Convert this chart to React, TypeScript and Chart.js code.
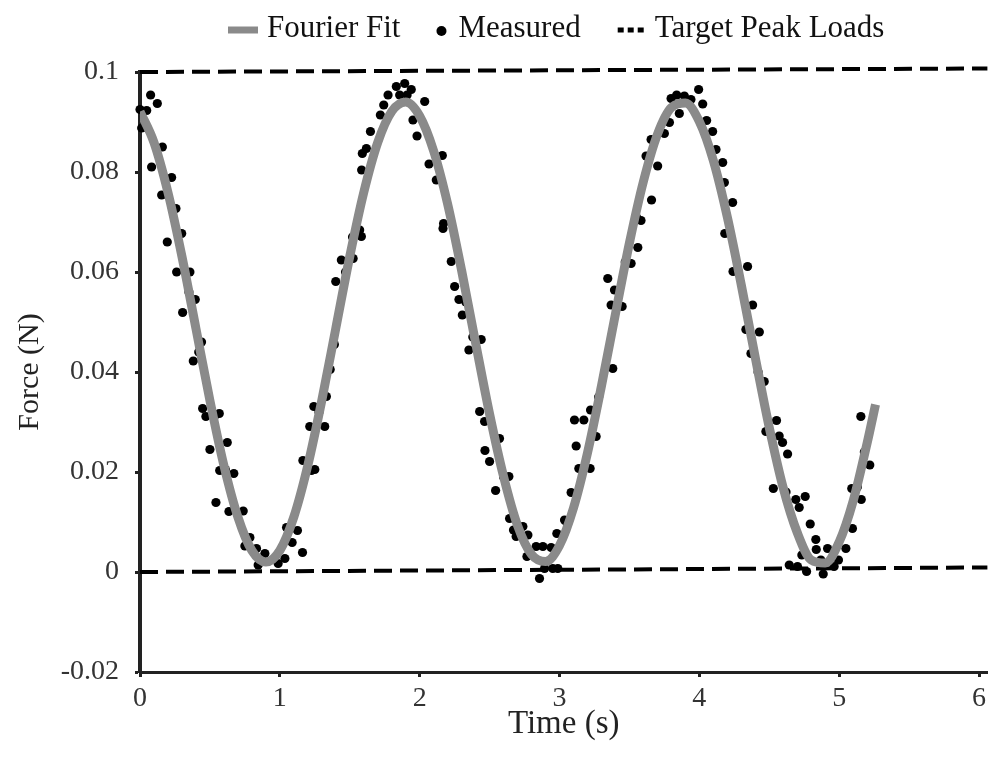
import { useEffect, useRef } from 'react';
import { Chart, registerables } from 'chart.js';

Chart.register(...registerables);

// ---- Data ----
const fitTime = [
  0, 0.1, 0.2, 0.3, 0.4, 0.5, 0.6, 0.7, 0.8, 0.9, 1.0, 1.1, 1.2, 1.3, 1.4, 1.5, 1.6, 1.7, 1.8, 1.9,
  2.0, 2.1, 2.2, 2.3, 2.4, 2.5, 2.6, 2.7, 2.8, 2.9, 3.0, 3.1, 3.2, 3.3, 3.4, 3.5, 3.6, 3.7, 3.8, 3.9,
  4.0, 4.1, 4.2, 4.3, 4.4, 4.5, 4.6, 4.7, 4.8, 4.9, 5.0, 5.1, 5.2, 5.26,
];
const fitForce = [
  0.0921, 0.0859, 0.0759, 0.0631, 0.0487, 0.0343, 0.0213, 0.011, 0.0043, 0.002, 0.0043, 0.011, 0.0213,
  0.0343, 0.0487, 0.0631, 0.0759, 0.0859, 0.0921, 0.094, 0.0912, 0.0842, 0.0736, 0.0603, 0.0458, 0.0316,
  0.0191, 0.0093, 0.0035, 0.0021, 0.0053, 0.0128, 0.0238, 0.0372, 0.0516, 0.0658, 0.0781, 0.0875, 0.0929,
  0.0938, 0.0901, 0.0823, 0.071, 0.0574, 0.0429, 0.0289, 0.0168, 0.0079, 0.0024, 0.0018, 0.006, 0.0142,
  0.0258, 0.0335,
];

const measuredTime = [
  0.0, 0.012, 0.048, 0.076, 0.083, 0.124, 0.155, 0.16, 0.195, 0.226, 0.257, 0.262, 0.298, 0.305, 0.35,
  0.357, 0.381, 0.395, 0.42, 0.44, 0.448, 0.471, 0.5, 0.53, 0.543, 0.567, 0.57, 0.61, 0.624, 0.636, 0.671,
  0.738, 0.75, 0.786, 0.833, 0.845, 0.893, 0.988, 1.036, 1.048, 1.088, 1.126, 1.162, 1.165, 1.214, 1.226,
  1.243, 1.25, 1.28, 1.321, 1.333, 1.36, 1.39, 1.4, 1.44, 1.47, 1.52, 1.524, 1.571, 1.583, 1.585, 1.59,
  1.619, 1.648, 1.719, 1.743, 1.774, 1.833, 1.857, 1.893, 1.91, 1.94, 1.952, 1.981, 2.036, 2.067, 2.119,
  2.162, 2.167, 2.171, 2.226, 2.25, 2.281, 2.305, 2.33, 2.352, 2.38, 2.429, 2.44, 2.464, 2.467, 2.5, 2.543,
  2.571, 2.6, 2.638, 2.643, 2.671, 2.69, 2.738, 2.767, 2.774, 2.833, 2.857, 2.881, 2.893, 2.94, 2.952,
  2.981, 2.988, 3.036, 3.05, 3.083, 3.107, 3.119, 3.138, 3.174, 3.219, 3.222, 3.262, 3.28, 3.345, 3.369,
  3.381, 3.393, 3.448, 3.47, 3.512, 3.55, 3.56, 3.583, 3.619, 3.655, 3.658, 3.702, 3.75, 3.786, 3.798,
  3.838, 3.857, 3.893, 3.94, 3.995, 4.024, 4.052, 4.095, 4.119, 4.167, 4.179, 4.182, 4.238, 4.241, 4.28,
  4.333, 4.345, 4.369, 4.381, 4.42, 4.429, 4.464, 4.476, 4.529, 4.552, 4.571, 4.595, 4.62, 4.631, 4.643,
  4.69, 4.702, 4.714, 4.733, 4.757, 4.767, 4.793, 4.833, 4.836, 4.869, 4.886, 4.917, 4.964, 4.995, 5.048,
  5.09, 5.095, 5.13, 5.155, 5.158, 5.18, 5.219,
];
const measuredForce = [
  0.0925, 0.0888, 0.0923, 0.0954, 0.081, 0.0937, 0.0754, 0.085, 0.066, 0.0789, 0.0727, 0.06, 0.0677,
  0.0519, 0.056, 0.06, 0.0422, 0.0545, 0.044, 0.046, 0.0327, 0.0311, 0.0245, 0.031, 0.0139, 0.0317, 0.0203,
  0.0205, 0.0259, 0.0121, 0.0197, 0.0122, 0.0052, 0.0069, 0.0047, 0.0014, 0.0037, 0.0017, 0.0027, 0.0089,
  0.0059, 0.0083, 0.0039, 0.0223, 0.0291, 0.0203, 0.0331, 0.0205, 0.032, 0.0291, 0.0351, 0.0405, 0.0455,
  0.0581, 0.0624, 0.06, 0.067, 0.0627, 0.0684, 0.0671, 0.0804, 0.0837, 0.0847, 0.0881, 0.0914, 0.0934,
  0.0954, 0.0971, 0.0954, 0.0977, 0.0954, 0.0965, 0.0904, 0.0872, 0.0941, 0.0816, 0.0784, 0.0833, 0.0687,
  0.0697, 0.0621, 0.0571, 0.0545, 0.0514, 0.054, 0.0444, 0.047, 0.0321, 0.0465, 0.0301, 0.0243, 0.0221,
  0.0163, 0.0267, 0.019, 0.0191, 0.0107, 0.0084, 0.0071, 0.0091, 0.0031, 0.0074, 0.0051, -0.0013, 0.0051,
  0.0007, 0.0049, 0.0007, 0.0077, 0.0007, 0.0104, 0.01, 0.0159, 0.0304, 0.0252, 0.0207, 0.0304, 0.0207,
  0.0324, 0.0271, 0.035, 0.0587, 0.0534, 0.0407, 0.0564, 0.0531, 0.062, 0.0617, 0.071, 0.0649, 0.0703,
  0.0832, 0.0865, 0.0744, 0.0812, 0.0877, 0.0899, 0.0947, 0.0954, 0.0917, 0.0952, 0.0945, 0.0965, 0.0936,
  0.0903, 0.0881, 0.0845, 0.0819, 0.0779, 0.0677, 0.0739, 0.0601, 0.06, 0.0485, 0.0611, 0.0437, 0.0534,
  0.04, 0.048, 0.0381, 0.0281, 0.0167, 0.0303, 0.0272, 0.0259, 0.016, 0.0236, 0.0014, 0.0145, 0.0011,
  0.0129, 0.0034, 0.0151, 0.0001, 0.0096, 0.0065, 0.0045, 0.0024, -0.0004, 0.0047, 0.0011, 0.0024, 0.0047,
  0.0167, 0.0087, 0.017, 0.0311, 0.0145, 0.024, 0.0214,
];

const targetTime = [0, 6.06];
const upperTarget = [0.1, 0.1007];
const lowerTarget = [0, 0.0009];

const xTicks = [0, 1, 2, 3, 4, 5, 6];
const yTicks = [-0.02, 0, 0.02, 0.04, 0.06, 0.08, 0.1];
const yTickLabels = ['-0.02', '0', '0.02', '0.04', '0.06', '0.08', '0.1'];

const seriesNames = ['Fourier Fit', 'Measured', 'Target Peak Loads'];
const xTitle = 'Time (s)';
const yTitle = 'Force (N)';

const FONT = '"Liberation Serif", "Times New Roman", serif';

const legendPlugin = {
  id: 'refLegend',
  afterDraw(chart: any) {
    const ctx = chart.ctx as CanvasRenderingContext2D;
    ctx.save();
    ctx.font = `31px ${FONT}`;
    ctx.textBaseline = 'middle';
    ctx.textAlign = 'left';
    const y = 29;
    let x = 228;
    // Fourier Fit: thick grey line
    ctx.strokeStyle = '#8a8a8a';
    ctx.lineWidth = 7;
    ctx.beginPath();
    ctx.moveTo(x, y + 1);
    ctx.lineTo(x + 30, y + 1);
    ctx.stroke();
    x += 39;
    ctx.fillStyle = '#111';
    ctx.fillText(seriesNames[0], x, y);
    x += ctx.measureText(seriesNames[0]).width + 36;
    // Measured: dot
    ctx.beginPath();
    ctx.arc(x + 5, y + 2, 5, 0, Math.PI * 2);
    ctx.fillStyle = '#000';
    ctx.fill();
    x += 22;
    ctx.fillStyle = '#111';
    ctx.fillText(seriesNames[1], x, y);
    x += ctx.measureText(seriesNames[1]).width + 37;
    // Target: short dashed line
    ctx.strokeStyle = '#000';
    ctx.lineWidth = 5;
    ctx.setLineDash([6, 4]);
    ctx.beginPath();
    ctx.moveTo(x, y + 1);
    ctx.lineTo(x + 26, y + 1);
    ctx.stroke();
    ctx.setLineDash([]);
    x += 37;
    ctx.fillStyle = '#111';
    ctx.fillText(seriesNames[2], x, y);
    ctx.restore();
  },
};

export default function App() {
  const canvasRef = useRef<HTMLCanvasElement | null>(null);

  useEffect(() => {
    if (!canvasRef.current) return;
    const pts = (xs: number[], ys: number[]) => xs.map((x, i) => ({ x, y: ys[i] }));
    const chart = new Chart(canvasRef.current, {
      type: 'scatter',
      data: {
        datasets: [
          {
            label: seriesNames[0],
            data: pts(fitTime, fitForce),
            showLine: true,
            borderColor: '#8a8a8a',
            borderWidth: 9,
            pointRadius: 0,
            cubicInterpolationMode: 'monotone',
            order: 0,
          } as any,
          {
            label: seriesNames[1],
            data: pts(measuredTime, measuredForce),
            pointRadius: 4.6,
            pointBackgroundColor: '#000',
            pointBorderWidth: 0,
            backgroundColor: '#000',
            clip: false,
            order: 1,
          },
          {
            label: seriesNames[2],
            data: pts(targetTime, upperTarget),
            showLine: true,
            borderColor: '#000',
            borderWidth: 4,
            borderDash: [18, 8],
            pointRadius: 0,
            clip: false,
            order: 2,
          },
          {
            label: seriesNames[2] + ' (lower)',
            data: pts(targetTime, lowerTarget),
            showLine: true,
            borderColor: '#000',
            borderWidth: 4,
            borderDash: [18, 8],
            pointRadius: 0,
            clip: false,
            order: 2,
          },
        ],
      },
      options: {
        responsive: true,
        maintainAspectRatio: false,
        animation: false,
        layout: { padding: { top: 72, left: 0, right: 0, bottom: 0 } },
        plugins: {
          legend: { display: false },
          tooltip: { enabled: false },
        },
        scales: {
          x: {
            type: 'linear',
            min: 0,
            max: 6.06,
            afterBuildTicks: (s: any) => {
              s.ticks = xTicks.map((v) => ({ value: v }));
            },
            afterFit: (s: any) => {
              s.height = 93;
            },
            grid: { drawOnChartArea: false, drawTicks: true, tickLength: 5, tickWidth: 3, color: '#222' },
            border: { color: '#222', width: 3 },
            ticks: {
              font: { family: FONT, size: 28 },
              color: '#333',
              padding: 5,
              maxRotation: 0,
              callback: (v: any) => String(v),
            },
            title: {
              display: true,
              text: xTitle,
              font: { family: FONT, size: 33 },
              color: '#222',
              padding: { top: 0, bottom: 21 },
            },
          },
          y: {
            type: 'linear',
            min: -0.02,
            max: 0.1,
            afterBuildTicks: (s: any) => {
              s.ticks = yTicks.map((v) => ({ value: v }));
            },
            afterFit: (s: any) => {
              s.width = 140;
            },
            grid: { drawOnChartArea: false, drawTicks: true, tickLength: 5, tickWidth: 3, color: '#222' },
            border: { color: '#222', width: 4 },
            ticks: {
              font: { family: FONT, size: 28 },
              color: '#333',
              padding: 16,
              callback: (v: any) => {
                const i = yTicks.findIndex((t) => Math.abs(t - v) < 1e-9);
                return i >= 0 ? yTickLabels[i] : '';
              },
            },
            title: {
              display: true,
              text: yTitle,
              font: { family: FONT, size: 30 },
              color: '#222',
              padding: { top: 12, bottom: 0 },
            },
          },
        },
      },
      plugins: [legendPlugin],
    });
    return () => chart.destroy();
  }, []);

  return (
    <div style={{ position: 'fixed', left: 0, top: 0, width: 992, height: 765, background: '#fff' }}>
      <canvas ref={canvasRef} />
    </div>
  );
}
